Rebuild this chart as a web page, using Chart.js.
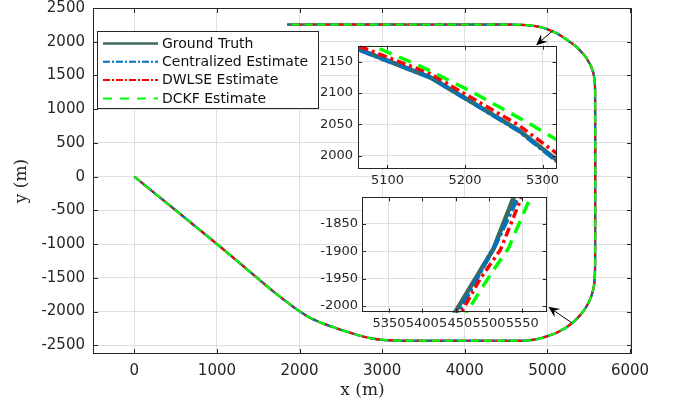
<!DOCTYPE html>
<html><head><meta charset="utf-8">
<script src="https://cdn.jsdelivr.net/npm/chart.js@4"></script>
<style>
body{margin:0;background:#fff;}
#wrap{position:relative;width:678px;height:402px;overflow:hidden;}
canvas{position:absolute;}
</style></head><body>
<div id="wrap">
<canvas id="main" width="678" height="402" style="left:0;top:0"></canvas>
<canvas id="in1" width="265" height="155" style="left:300px;top:40px"></canvas>
<canvas id="in2" width="255" height="145" style="left:300px;top:190px"></canvas>
</div>
<script>
// ---------- data ----------
const seriesLabels = ['Ground Truth', 'Centralized Estimate', 'DWLSE Estimate', 'DCKF Estimate'];

// main trajectory (all four series coincide at this scale)
const pathX = [0, 1000, 1700, 1800, 1900, 2000, 2100, 2200, 2300, 2450, 2600, 2750, 2900, 3050, 3250, 4700, 4830, 4950, 5060, 5150, 5230, 5300, 5360, 5420, 5470, 5510, 5540, 5560, 5572, 5578, 5578, 5574, 5565, 5550, 5530, 5500, 5460, 5410, 5350, 5280, 5200, 5120, 5040, 4950, 4850, 4720, 4500, 1850];
const pathY = [0, -1000, -1720, -1815, -1910, -1995, -2075, -2135, -2185, -2250, -2310, -2365, -2405, -2425, -2432, -2432, -2420, -2385, -2340, -2290, -2235, -2170, -2100, -2020, -1930, -1840, -1740, -1640, -1520, -1250, 1250, 1380, 1480, 1560, 1630, 1700, 1780, 1850, 1925, 1990, 2060, 2120, 2165, 2205, 2232, 2248, 2255, 2255];

const xTicks = [0, 1000, 2000, 3000, 4000, 5000, 6000];
const yTicks = [-2500, -2000, -1500, -1000, -500, 0, 500, 1000, 1500, 2000, 2500];

// inset 1 (upper-right turn)
const gt1X = [5040, 5155, 5269, 5330];
const gt1Y = [2181, 2125, 2041, 1982];
const cen1X = [5040, 5157, 5270, 5330];
const cen1Y = [2180, 2124, 2039, 1980];
const dwlse1X = [5040, 5155, 5269, 5330];
const dwlse1Y = [2186, 2131, 2049, 1993];
const dckf1X = [5040, 5144, 5209, 5282, 5330];
const dckf1Y = [2197, 2142, 2102, 2052, 2017];
const in1XTicks = [5100, 5200, 5300];
const in1YTicks = [2000, 2050, 2100, 2150];

// inset 2 (lower-right turn)
const gt2X = [5440, 5507, 5544];
const gt2Y = [-2030, -1895, -1780];
const cen2X = [5446, 5510, 5552];
const cen2Y = [-2030, -1888, -1780];
const dwlse2X = [5450, 5487, 5517, 5556];
const dwlse2Y = [-2030, -1950, -1898, -1780];
const dckf2X = [5457, 5502, 5529, 5570];
const dckf2Y = [-2030, -1943, -1895, -1780];
const in2XTicks = [5350, 5400, 5450, 5500, 5550];
const in2YTicks = [-2000, -1950, -1900, -1850];

// ---------- styles ----------
const colors = ['#3f6b5a', '#0072BD', '#FF0000', '#00FF00'];
const mainWidths = [2.5, 2, 2, 2];
const mainDash = [[], [6, 2, 2, 2], [6, 3, 2, 3], [8, 5]];
const insetWidths = [4.5, 4, 3.5, 3.5];
const insetDash = [[], [12, 3, 3, 3], [9, 4, 3, 4], [13, 8]];
const legendDash = [[], [7, 2, 2, 2], [7, 2, 2, 2], [9, 8]];
const axisColor = '#262626';
const gridColor = '#dfdfdf';

Chart.defaults.font.family = 'DejaVu Sans';
Chart.defaults.color = axisColor;

const pts = (xs, ys) => xs.map((x, i) => ({x: x, y: ys[i]}));
const plain = v => String(v);

// ---------- plugins ----------
const boxTicks = {
  id: 'boxTicks',
  beforeDraw(chart, args, opts) {
    if (!opts.fill) return;
    const a = chart.chartArea, ctx = chart.ctx;
    ctx.save(); ctx.fillStyle = '#fff';
    ctx.fillRect(a.left, a.top, a.right - a.left, a.bottom - a.top);
    ctx.restore();
  },
  afterDatasetsDraw(chart, args, opts) {
    const {ctx, chartArea: a} = chart;
    const x = chart.scales.x, y = chart.scales.y;
    const L = opts.len || 5;
    ctx.save();
    ctx.strokeStyle = axisColor; ctx.lineWidth = 1;
    ctx.beginPath();
    x.ticks.forEach(t => {
      const p = Math.round(x.getPixelForValue(t.value)) + 0.5;
      ctx.moveTo(p, a.bottom); ctx.lineTo(p, a.bottom - L);
      ctx.moveTo(p, a.top); ctx.lineTo(p, a.top + L);
    });
    y.ticks.forEach(t => {
      const p = Math.round(y.getPixelForValue(t.value)) + 0.5;
      ctx.moveTo(a.left, p); ctx.lineTo(a.left + L, p);
      ctx.moveTo(a.right, p); ctx.lineTo(a.right - L, p);
    });
    ctx.stroke();
    ctx.strokeRect(Math.round(a.left) + 0.5, Math.round(a.top) + 0.5,
                   Math.round(a.right - a.left) - 1, Math.round(a.bottom - a.top) - 1);
    ctx.restore();
  }
};

function drawArrow(ctx, x1, y1, x2, y2) {
  const ang = Math.atan2(y2 - y1, x2 - x1);
  const c = Math.cos(ang), s = Math.sin(ang);
  const hl = 11, hw = 5, back = 7;
  ctx.beginPath(); ctx.moveTo(x1, y1); ctx.lineTo(x2 - c * back, y2 - s * back); ctx.stroke();
  const bx = x2 - c * hl, by = y2 - s * hl;
  ctx.beginPath(); ctx.moveTo(x2, y2);
  ctx.lineTo(bx - s * hw, by + c * hw);
  ctx.lineTo(x2 - c * back, y2 - s * back);
  ctx.lineTo(bx + s * hw, by - c * hw);
  ctx.closePath(); ctx.fill();
}

// arrow annotations in main-axis data coordinates: [tailX, tailY, tipX, tipY]
const arrowsData = [[5073, 2173, 4863, 1949], [5295, -2168, 5012, -1930]];

const overlay = {
  id: 'overlay',
  afterDraw(chart) {
    const ctx = chart.ctx, x = chart.scales.x, y = chart.scales.y;
    ctx.save();
    ctx.strokeStyle = '#000'; ctx.fillStyle = '#000'; ctx.lineWidth = 1;
    arrowsData.forEach(a => drawArrow(ctx, x.getPixelForValue(a[0]), y.getPixelForValue(a[1]),
                                           x.getPixelForValue(a[2]), y.getPixelForValue(a[3])));
    // legend
    const bx = 97.5, by = 31.5, bw = 221, bh = 77;
    ctx.fillStyle = '#fff'; ctx.fillRect(bx, by, bw, bh);
    ctx.strokeStyle = axisColor; ctx.lineWidth = 1; ctx.strokeRect(bx, by, bw, bh);
    ctx.font = '14px "DejaVu Sans"'; ctx.textBaseline = 'middle'; ctx.textAlign = 'left';
    chart.data.datasets.forEach((d, i) => {
      const yy = 43.5 + i * 18.3;
      ctx.strokeStyle = d.borderColor; ctx.lineWidth = (i === 0 ? 2.5 : 2);
      ctx.setLineDash(legendDash[i]);
      ctx.beginPath(); ctx.moveTo(103, yy); ctx.lineTo(158, yy); ctx.stroke();
      ctx.setLineDash([]);
      ctx.fillStyle = '#111';
      ctx.fillText(d.label, 162, yy + 0.5);
    });
    ctx.restore();
  }
};

// ---------- main chart ----------
const orderVals = [4, 3, 2, 1];
new Chart(document.getElementById('main'), {
  type: 'line',
  data: {
    datasets: seriesLabels.map((lab, i) => ({
      label: lab,
      data: pts(pathX, pathY),
      pointRadius: 0, tension: 0.3, fill: false,
      borderColor: colors[i], backgroundColor: colors[i],
      borderWidth: mainWidths[i], borderDash: mainDash[i],
      order: orderVals[i]
    }))
  },
  options: {
    responsive: false, animation: false,
    layout: {padding: {left: 0, right: 46, top: 8, bottom: 0}},
    plugins: {legend: {display: false}, tooltip: {enabled: false}, boxTicks: {len: 5}},
    scales: {
      x: {
        type: 'linear', min: -500, max: 6024,
        afterBuildTicks: s => { s.ticks = xTicks.map(v => ({value: v})); },
        afterFit: s => { s.height = 48; },
        grid: {color: gridColor, drawTicks: false},
        border: {display: false},
        ticks: {font: {size: 15}, padding: 8, maxRotation: 0, color: axisColor, callback: plain},
        title: {display: true, text: 'x (m)', font: {family: 'DejaVu Serif', size: 17}, color: axisColor, padding: {top: 0, bottom: 1}}
      },
      y: {
        type: 'linear', min: -2630, max: 2500,
        afterBuildTicks: s => { s.ticks = yTicks.map(v => ({value: v})); },
        afterFit: s => { s.width = 93; s.paddingTop = 0; s.paddingBottom = 0; },
        grid: {color: gridColor, drawTicks: false},
        border: {display: false},
        ticks: {font: {size: 15}, padding: 8, color: axisColor, callback: plain},
        title: {display: true, text: 'y (m)', font: {family: 'DejaVu Serif', size: 17}, color: axisColor, padding: {top: 11, bottom: 0}}
      }
    }
  },
  plugins: [boxTicks, overlay]
});

// ---------- insets ----------
function makeInset(id, series, xr, yr, xt, yt, pad, yW, xH, xPad, yPad) {
  new Chart(document.getElementById(id), {
    type: 'line',
    data: {
      datasets: series.map((s, i) => ({
        label: seriesLabels[i],
        data: pts(s[0], s[1]),
        pointRadius: 0, tension: 0, clip: 0, fill: false,
        borderColor: colors[i], borderWidth: insetWidths[i], borderDash: insetDash[i],
        order: orderVals[i]
      }))
    },
    options: {
      responsive: false, animation: false,
      layout: {padding: pad},
      plugins: {legend: {display: false}, tooltip: {enabled: false}, boxTicks: {len: 4, fill: true}},
      scales: {
        x: {
          type: 'linear', min: xr[0], max: xr[1],
          afterBuildTicks: s => { s.ticks = xt.map(v => ({value: v})); },
          afterFit: s => { s.height = xH; s.paddingLeft = 0; s.paddingRight = 0; },
          grid: {color: gridColor, drawTicks: false}, border: {display: false},
          ticks: {font: {size: 13}, padding: xPad, maxRotation: 0, minRotation: 0, autoSkip: false, color: axisColor, callback: plain}
        },
        y: {
          type: 'linear', min: yr[0], max: yr[1],
          afterBuildTicks: s => { s.ticks = yt.map(v => ({value: v})); },
          afterFit: s => { s.width = yW; s.paddingTop = 0; s.paddingBottom = 0; },
          grid: {color: gridColor, drawTicks: false}, border: {display: false},
          ticks: {font: {size: 13}, padding: yPad, autoSkip: false, color: axisColor, callback: plain}
        }
      }
    },
    plugins: [boxTicks]
  });
}

makeInset('in1',
  [[gt1X, gt1Y], [cen1X, cen1Y], [dwlse1X, dwlse1Y], [dckf1X, dckf1Y]],
  [5062, 5318], [1979, 2175.5], in1XTicks, in1YTicks,
  {left: 0, right: 8.5, top: 5.7, bottom: 0}, 58, 26, 4, 5);

makeInset('in2',
  [[gt2X, gt2Y], [cen2X, cen2Y], [dwlse2X, dwlse2Y], [dckf2X, dckf2Y]],
  [5309.6, 5586.5], [-2012.2, -1801.9], in2XTicks, in2YTicks,
  {left: 0, right: 8.3, top: 7.3, bottom: 0}, 62, 22.3, 3, 4);
</script>
</body></html>
